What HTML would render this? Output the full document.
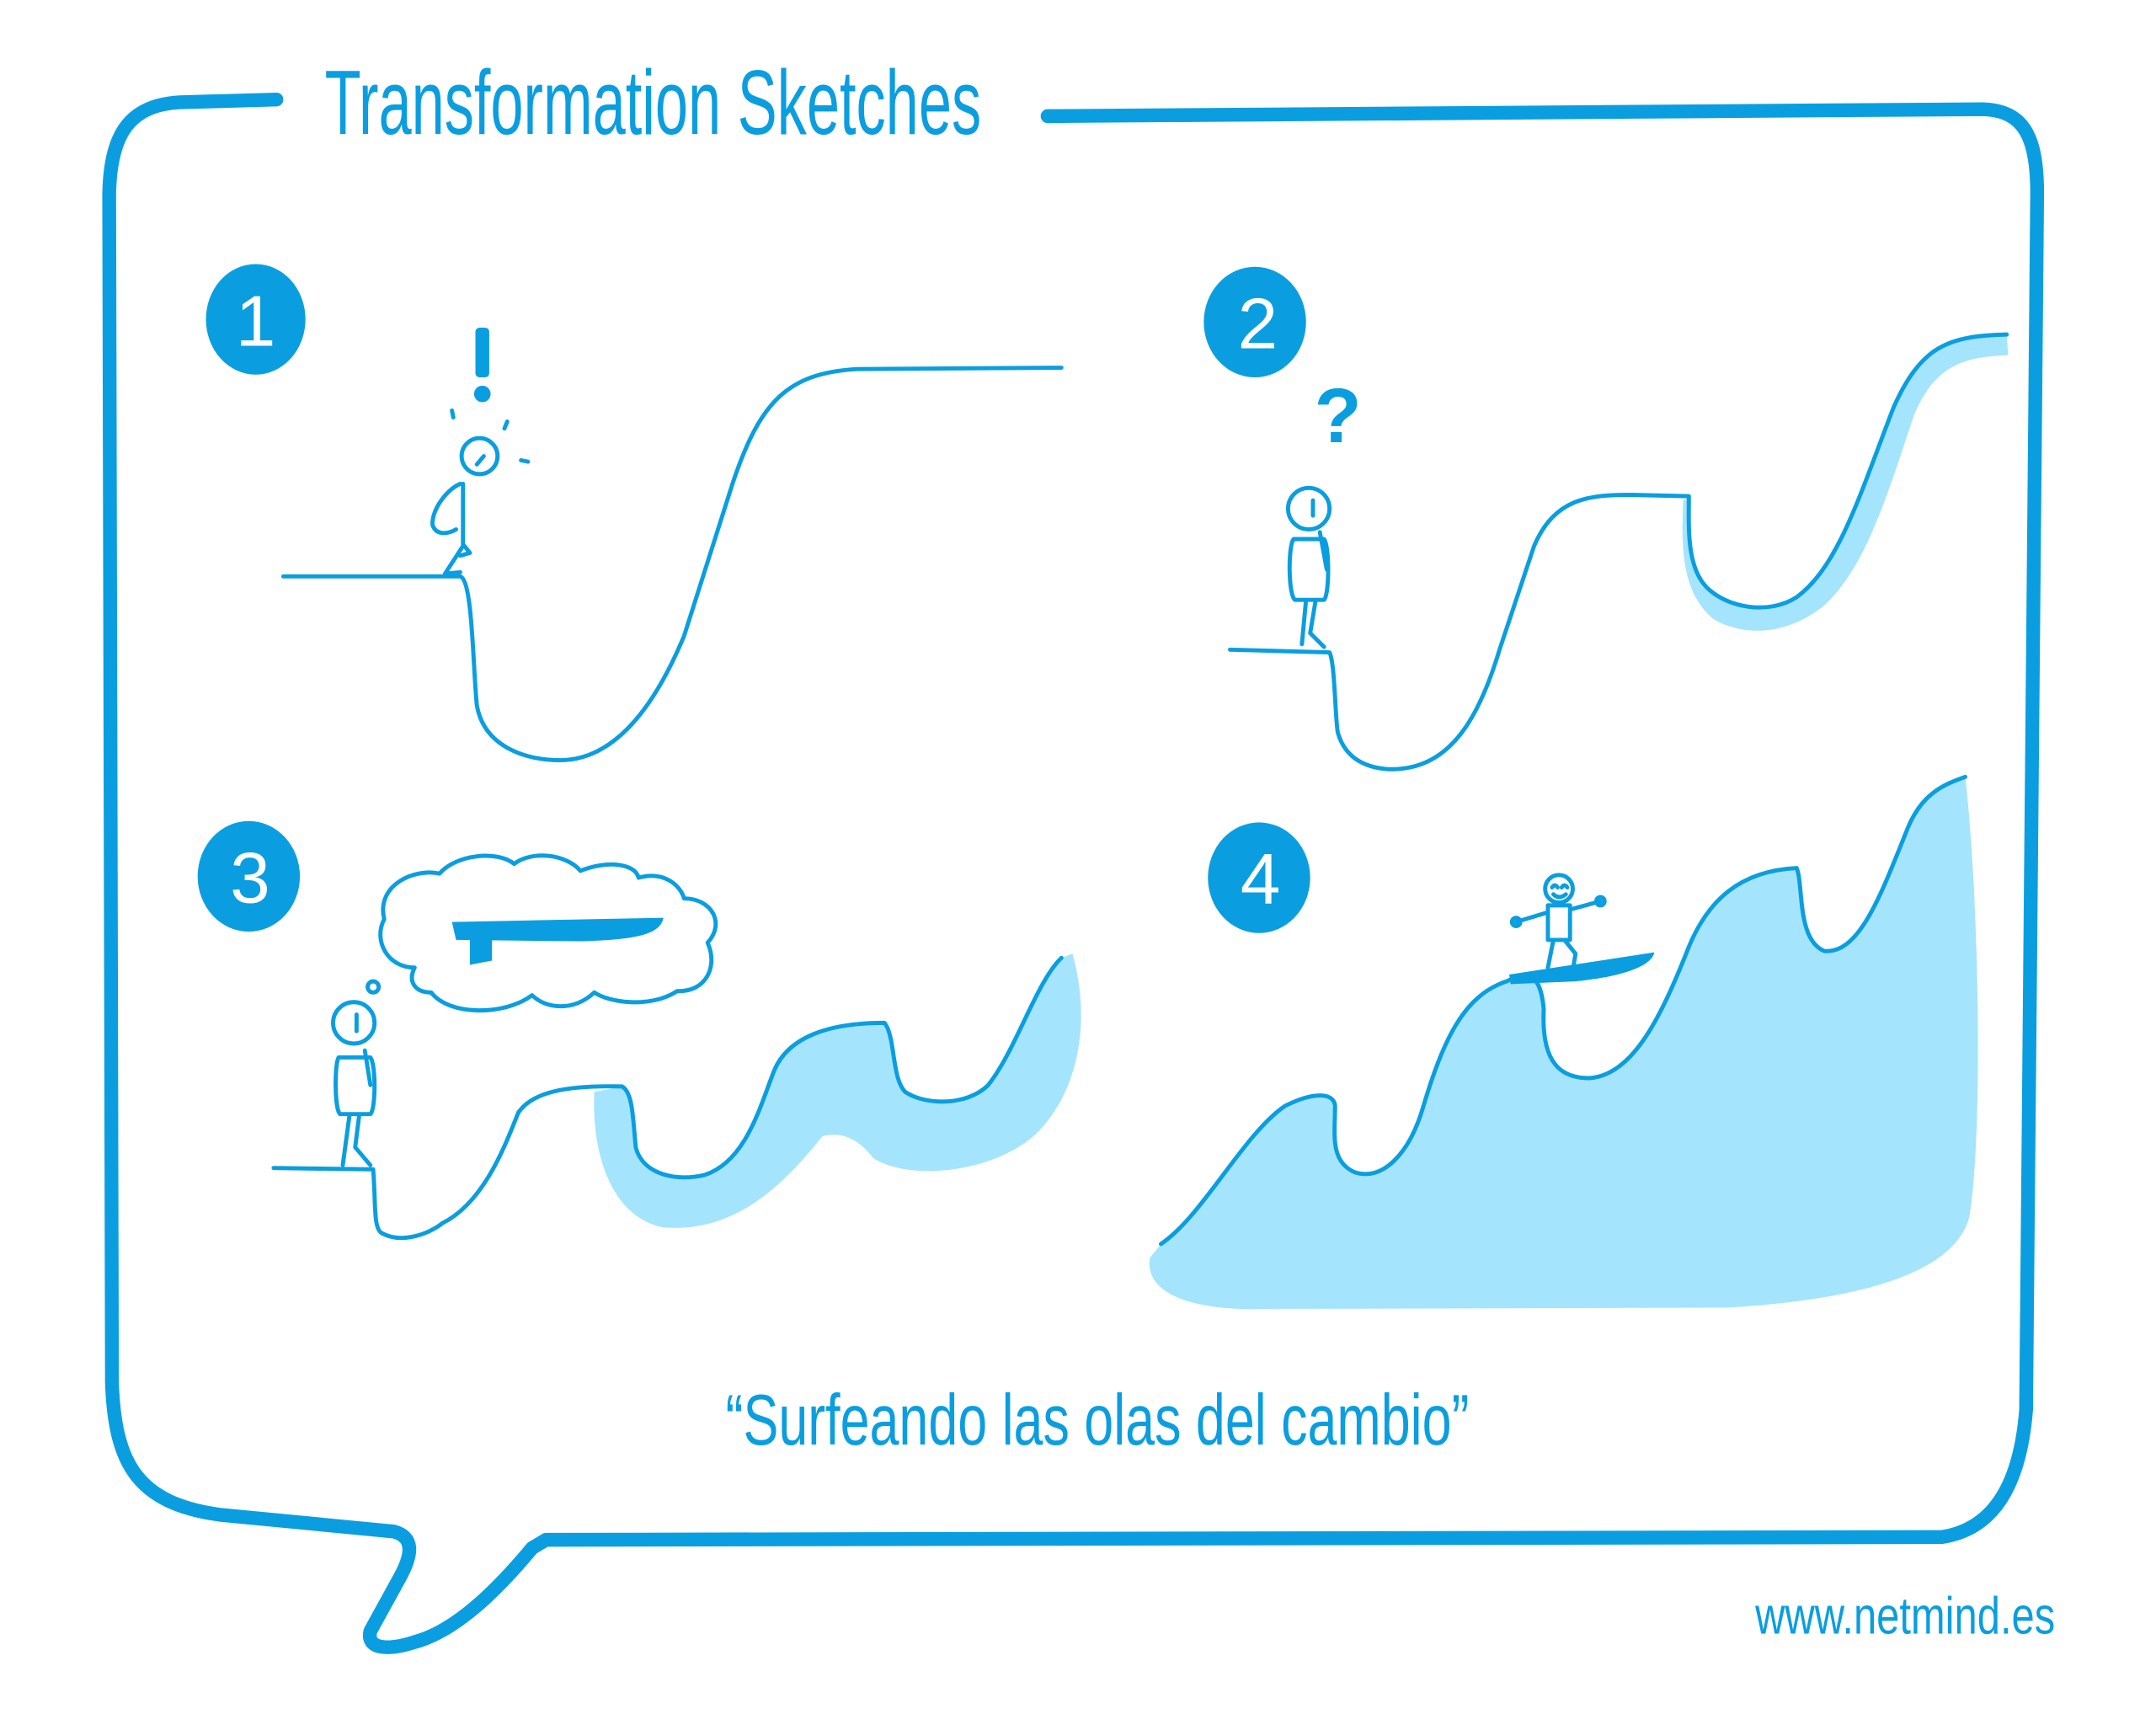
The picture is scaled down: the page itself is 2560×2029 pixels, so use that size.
<!DOCTYPE html>
<html><head><meta charset="utf-8"><style>
html,body{margin:0;padding:0;background:#fff;}
svg{display:block;}
text{font-family:"Liberation Sans Narrow","Liberation Sans",sans-serif;fill:#0a9ee0;}
</style></head><body>
<svg width="2560" height="2029" viewBox="0 0 1560 1236.4" xmlns="http://www.w3.org/2000/svg">
<rect width="1560" height="1237" fill="#fff"/>
<g fill="none" stroke="#0a9ee0" stroke-linecap="round" stroke-linejoin="round">
<path stroke-width="10" d="M200,72 L130,74 C95,76 80,95 79,140 L81,1000 C83,1060 100,1088 160,1096 L285,1108 C300,1112 298,1125 290,1140 L268,1180 C265,1192 278,1195 300,1188 C330,1180 360,1150 385,1120 L395,1114 L1405,1112 C1445,1106 1462,1070 1466,1020 L1474,140 C1474,100 1465,80 1435,79 L758,84"/>
</g>
<text x="235" y="97" font-size="66" textLength="475" lengthAdjust="spacingAndGlyphs">Transformation Sketches</text>

<g fill="#0a9ee0">
<ellipse cx="185" cy="231" rx="36" ry="40"/>
<ellipse cx="908" cy="233" rx="37" ry="40"/>
<ellipse cx="180" cy="634" rx="37" ry="40"/>
<ellipse cx="911" cy="635" rx="37" ry="40"/>
</g>
<g font-size="52" text-anchor="middle">
<text x="185" y="250" style="fill:#fff">1</text>
<text x="910" y="252" style="fill:#fff">2</text>
<text x="181" y="653" style="fill:#fff">3</text>
<text x="912" y="654" style="fill:#fff">4</text>
</g>

<path fill="#a4e4fd" d="M1218,362 C1216,400 1218,430 1240,448 C1265,462 1295,458 1320,438 C1350,410 1365,360 1385,300 C1400,265 1420,258 1453,257 L1452,243 C1410,243 1390,250 1370,295 C1345,360 1330,410 1300,432 C1280,445 1250,440 1235,425 C1220,410 1222,380 1222,360 Z"/>
<path fill="#a4e4fd" d="M430,790 C428,830 440,880 480,888 C530,892 565,860 595,822 C610,818 622,825 632,838 C660,855 720,848 750,820 C780,790 790,740 776,690 L768,693 C750,710 735,760 715,785 C700,800 670,800 655,790 C645,780 648,750 640,740 C600,740 570,750 560,775 C550,800 540,840 510,850 C490,855 465,850 460,830 C458,810 458,790 450,786 Z"/>
<path fill="#a4e4fd" d="M832,910 C828,935 860,946 900,947 L1250,946 C1350,940 1415,920 1425,880 C1435,820 1432,650 1422,562 C1405,568 1390,575 1380,600 C1360,650 1345,690 1320,688 C1300,680 1305,640 1300,628 C1260,630 1235,650 1220,690 C1200,740 1180,778 1150,780 C1130,780 1115,770 1117,730 C1115,710 1110,700 1090,710 C1060,720 1045,750 1030,800 C1020,835 1000,855 980,848 C962,840 966,820 966,800 C965,790 950,790 930,800 C900,820 870,880 840,900 Z"/>

<g fill="none" stroke="#0a9ee0" stroke-width="3" stroke-linecap="round" stroke-linejoin="round">
<path d="M205,417 L333,417 C342,420 342,480 345,510 C350,540 380,550 405,550 C440,550 470,520 495,460 L530,350 C550,290 570,270 620,267 L768,266"/>
<circle cx="347" cy="330" r="13"/><path d="M345,336 L350,330"/>
<path d="M333,350 C322,355 312,370 313,380 C316,388 325,386 330,383 M335,350 L335,395 L322,415 M336,395 L340,400 L333,402 M322,415 L333,414"/>
<path d="M327,297 L328,302 M367,305 L365,310 M377,333 L382,334"/>
<path d="M890,470 L962,472 C966,480 966,520 968,530 C975,555 1000,558 1015,556 C1050,552 1070,520 1085,470 L1110,395 C1125,360 1150,358 1180,358 L1222,359 C1222,380 1220,410 1235,425 C1250,440 1280,445 1300,432 C1330,410 1345,360 1370,295 C1390,250 1410,243 1452,242"/>
<circle cx="947" cy="368" r="15"/><path d="M950,362 L950,373"/>
<path d="M936,390 L958,390 C962,395 962,430 958,434 L937,434 C932,430 932,395 936,390 Z M945,434 L942,466 M952,434 L948,458 L958,468 M955,385 L960,412"/>
<path d="M198,845 L270,846 C272,870 270,888 276,892 C290,900 310,893 320,885 C350,870 365,830 375,805 C385,790 410,785 450,786 C458,790 458,810 460,830 C465,850 490,855 510,850 C540,840 550,800 560,775 C570,750 600,740 640,740 C648,750 645,780 655,790 C670,800 700,800 715,785 C735,760 750,710 768,693"/>
<circle cx="256" cy="740" r="15"/><path d="M258,734 L258,746"/>
<path d="M245,765 L268,765 C272,770 272,802 268,806 L246,806 C242,802 242,770 245,765 Z M253,806 L248,843 M260,806 L257,830 L268,843 M264,760 L268,785"/>
<circle cx="270" cy="714" r="4"/>
<path d="M300,700 C280,700 270,680 278,665 C272,640 300,628 318,632 C330,618 360,615 372,625 C385,615 410,618 420,630 C440,622 460,625 462,635 C480,630 492,640 495,650 C515,650 525,668 512,682 C520,700 510,718 490,717 C470,730 440,725 430,718 C415,732 395,730 385,720 C365,735 325,735 312,718 C300,718 295,710 300,700 Z"/>
<path d="M840,900 C870,880 900,820 930,800 C950,790 965,790 966,800 C966,820 962,840 980,848 C1000,855 1020,835 1030,800 C1045,750 1060,720 1090,710 C1110,700 1115,710 1117,730 C1115,770 1130,780 1150,780 C1180,778 1200,740 1220,690 C1235,650 1260,630 1300,628 C1305,640 1300,680 1320,688 C1345,690 1360,650 1380,600 C1390,575 1405,568 1422,562"/>
<circle cx="1128" cy="643" r="10"/>
<path d="M1123,642 Q1125,639 1127,642 M1130,642 Q1132,639 1134,642 M1124,647 Q1128,651 1133,647"/>
<path d="M1120,655 L1136,655 L1136,680 L1120,680 Z M1097,667 L1120,660 M1136,658 L1158,652 M1124,680 L1120,700 M1132,680 L1140,690 L1138,702"/>
<circle cx="1097" cy="667" r="3"/><circle cx="1158" cy="652" r="3"/>
</g>
<rect x="344" y="237" width="10" height="36" rx="3" fill="#0a9ee0"/>
<circle cx="349" cy="285" r="6" fill="#0a9ee0"/>
<text x="968" y="320" font-size="56" font-weight="bold" text-anchor="middle">?</text>
<path d="M327,667 L480,664 C478,676 460,680 420,681 L330,680 Z" fill="#0a9ee0"/>
<path d="M340,680 L356,680 L356,695 L340,698 Z" fill="#0a9ee0"/>
<path d="M1092,705 L1197,689 C1195,700 1170,707 1140,710 L1093,712 Z" fill="#0a9ee0"/>

<text x="525" y="1045" font-size="52" textLength="538" lengthAdjust="spacingAndGlyphs">“Surfeando las olas del cambio”</text>
<text x="1270" y="1182" font-size="38" textLength="217" lengthAdjust="spacingAndGlyphs">www.netmind.es</text>
</svg>
</body></html>
